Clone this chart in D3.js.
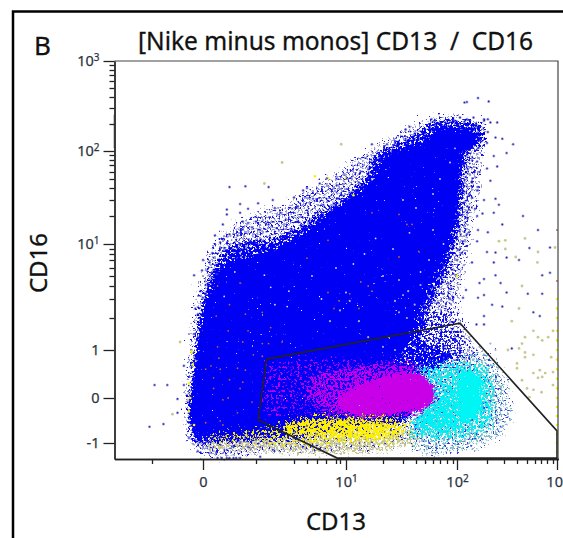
<!DOCTYPE html>
<html>
<head>
<meta charset="utf-8">
<script src="https://cdn.jsdelivr.net/npm/d3@7"></script>
<style>
  html, body { margin: 0; padding: 0; background: #fff; overflow: hidden; }
  svg { display: block; }
  text { font-family: "Noto Sans", sans-serif; }
</style>
</head>
<body>
<svg id="chart" width="563" height="538"></svg>
<script>
// axis ticks
const xMajor = [0, 10, 100, 1000];
const xMajorLabels = [["0", ""], ["10", "1"], ["10", "2"], ["10", "3"]];
const xMinor = [-2, 2, 4, 5, 6, 7, 8, 9, 20, 30, 40, 50, 60, 70, 80, 90, 200, 300, 400, 500, 600, 700, 800, 900];
const yMajor = [-1, 0, 1, 10, 100, 1000];
const yMajorLabels = [["-1", ""], ["0", ""], ["1", ""], ["10", "1"], ["10", "2"], ["10", "3"]];
const yMinor = [2, 3, 4, 5, 6, 7, 8, 9, 20, 30, 40, 50, 60, 70, 80, 90, 200, 300, 400, 500, 600, 700, 800, 900];

// gate, [CD13, CD16]
const gate = [[2.5, 0.81], [110, 1.84], [1000, -0.73], [1000, -1.33], [8.3, -1.33], [2.1, -0.49], [2.5, 0.81]];

const blueOuter = [[-0.3, -1.15], [-0.6, -0.7], [-0.65, -0.04], [-0.55, 0.58], [-0.45, 1.1], [-0.3, 1.9], [-0.2, 3], [-0.05, 4.5], [0.15, 6.6], [0.4, 9.8], [0.75, 13.5], [1.4, 17], [2, 20.5], [2.6, 23.5], [3.5, 26], [4.5, 33], [6.3, 43], [9.7, 62], [15, 90], [21, 128], [32, 175], [50, 215], [78, 250], [115, 230], [170, 210], [190, 210], [180, 100], [170, 57], [160, 30], [140, 14.2], [125, 7], [110, 4.6], [95, 2.4], [140, 1.25], [175, 0.95], [140, 0.7], [45, -0.76], [28, -0.98], [13.5, -1.11], [4.5, -1.15], [1.8, -1.2], [0.45, -1.29]];
const blueMid = [[-0.3, -1], [-0.5, -0.6], [-0.6, -0.15], [-0.45, 0.27], [-0.35, 0.8], [-0.25, 1.4], [-0.1, 2.4], [0.1, 3.6], [0.3, 5], [0.55, 7], [0.95, 9.5], [1.6, 10.8], [2.4, 11.3], [3.2, 12.8], [4.2, 15.5], [5.6, 19.5], [7, 24], [9, 29], [11, 36], [15, 50], [18, 90], [23, 118], [32, 140], [43, 165], [58, 215], [85, 225], [125, 215], [180, 200], [190, 135], [150, 115], [135, 95], [125, 60], [118, 34], [110, 20], [100, 12], [90, 8.5], [82, 5.8], [68, 4], [58, 2.8], [52, 2], [45, 1.3], [70, 1], [100, 0.9], [60, 0.6], [40, 0.48], [45, 0.06], [35, -0.38], [26, -0.6], [9, -0.85], [2.2, -0.95], [0.8, -0.98]];
const blueLower = [[35, 2], [85, 2.5], [110, 1.4], [130, 0.85], [60, 0.5], [35, 0.6]];
const blueCore = [[-0.2, -0.95], [-0.4, -0.6], [-0.5, -0.15], [-0.35, 0.27], [-0.25, 0.8], [-0.15, 1.4], [0, 2.2], [0.2, 3.3], [0.4, 4.5], [0.7, 6], [1.1, 6.9], [1.6, 7.4], [2.2, 8], [2.9, 9], [3.6, 10.5], [4.7, 13.1], [6.1, 17.2], [7.4, 21.5], [10.2, 30], [13.5, 38], [17, 48], [20, 80], [26, 102], [35, 115], [49, 130], [65, 178], [88, 190], [125, 185], [170, 160], [155, 115], [115, 97], [110, 65], [103, 34], [97, 20.5], [87, 12.5], [80, 8.8], [70, 6], [58, 4.2], [48, 2.9], [42, 2.2], [40, 2], [35, 1.25], [26, 0.8], [40, 0.48], [45, 0.06], [35, -0.38], [26, -0.6], [16, -0.6], [9, -0.75], [4.5, -0.82], [2.2, -0.82], [0.8, -0.87], [0.05, -0.87]];
const magentaWide = [[2.6, 0.75], [12, 0.78], [25, 0.72], [40, 0.65], [40, -0.2], [20, -0.45], [8, -0.42], [4.5, -0.35], [2.3, -0.4]];
const magentaMid = [[5.5, 0.45], [10, 0.62], [20, 0.72], [38, 0.72], [68, 0.45], [68, -0.15], [40, -0.35], [15, -0.45], [7, -0.35], [5, 0.05]];
const magentaCore = [[8.5, 0.06], [15, 0.34], [26, 0.52], [44, 0.52], [62, 0.25], [62, -0.05], [48, -0.25], [26, -0.34], [15, -0.38], [8.5, -0.27]];
const yellowOuter = [[-0.2, -0.85], [1, -0.8], [8, -0.8], [20, -0.8], [40, -0.7], [50, -0.9], [35, -1.05], [20, -1.18], [8, -1.22], [3, -1.18], [1, -1.15], [0.1, -1.1]];
const yellowMid = [[0.1, -0.82], [1, -0.8], [3, -0.6], [4.5, -0.42], [10, -0.33], [25, -0.33], [33, -0.5], [38, -0.75], [25, -0.95], [10, -1], [3, -0.98], [0.5, -0.95]];
const yellowCore = [[3.5, -0.58], [5.3, -0.49], [8.5, -0.45], [18, -0.49], [25, -0.53], [30, -0.76], [19, -0.89], [8.5, -0.89], [5.3, -0.84], [3.5, -0.8]];
const cyanOuter = [[33, 0.83], [85, 1], [220, 0.9], [305, 0.4], [350, -0.38], [280, -0.82], [140, -1.15], [50, -1.27], [33, -0.93], [45, -0.38], [60, 0.27]];
const cyanMid = [[37, 0.58], [85, 0.75], [195, 0.7], [240, 0.27], [240, -0.49], [175, -0.82], [70, -0.93], [35, -0.82], [40, -0.49], [60, 0.06]];
const cyanLow = [[103, 0.1], [103, -0.3], [120, -0.65], [70, -0.76], [45, -0.67], [37, -0.53], [55, -0.27], [70, -0.04], [85, 0.27]];
const cyanCore = [[105, 0.54], [140, 0.58], [185, 0.42], [185, -0.09], [165, -0.45], [120, -0.55], [103, -0.3], [100, 0.15]];

// single events
const blueEvents = [[1, 41], [1.6, 42], [2.6, 41], [1.4, 27.5], [1.7, 24.5], [2.1, 28], [2.8, 30], [0.9, 24], [0.9, 21], [1.4, 22], [0.75, 17], [1.5, 18], [1.7, 17.5], [2, 18], [0.45, 13], [1, 13.5], [1.3, 13], [1.5, 15.2], [1.85, 16], [2.2, 15], [2.6, 17], [2.9, 25], [3.2, 22], [4, 32], [4.3, 26], [4.7, 38], [5, 40], [6.3, 45], [7.1, 51], [8.2, 43], [10.2, 51], [11.9, 38], [5.6, 31], [6.7, 27], [7.4, 25], [8.2, 31], [9.3, 34],
  [0.65, 10.5], [0.8, 9.2], [0.35, 8.2], [0.25, 6.7], [0, 7], [-0.04, 5.7], [-0.35, 5.1], [0.2, 4.3], [0.1, 4.1], [-0.1, 3.6], [0, 3.1], [-0.3, 2.5], [-0.2, 2.2], [-0.35, 1.5], [-0.2, 1.4],
  [1.4, 9.8], [1.8, 10.2], [2.3, 11], [3.2, 12.4], [3.9, 14.8], [5.2, 18], [6.1, 22], [8, 26], [8.8, 31], [11, 36], [13.5, 46], [16, 64], [18, 70], [19, 90], [23, 105], [27, 125], [32, 145], [39, 165], [50, 165], [63, 200], [78, 210], [95, 220], [125, 215], [155, 240], [190, 220], [220, 210], [175, 190], [250, 150], [205, 170],
  [125, 350], [133, 355], [170, 390], [210, 360], [58, 230], [63, 220], [90, 230], [110, 240], [133, 230], [190, 230], [205, 230], [260, 210], [35, 190], [32, 180], [17, 125], [22, 125], [26, 130], [37, 125], [290, 145], [370, 125], [320, 95], [240, 88], [260, 68], [200, 65], [220, 48], [250, 31], [270, 27], [190, 30], [167, 38], [150, 32], [140, 24], [240, 22], [185, 21.5], [167, 20], [460, 20], [290, 17], [205, 14.2], [140, 14.2], [167, 11], [650, 15], [850, 9.3], [530, 9.2], [250, 8.3], [200, 8.4], [150, 6.7], [240, 6.7], [320, 7.4], [720, 5.1], [850, 5.4], [250, 5.1], [190, 4.7], [175, 4.3], [280, 4.3], [320, 3.5], [510, 3.4], [720, 3.4], [130, 3.7], [190, 3.3], [170, 3.1], [230, 2.7], [290, 2.6], [120, 3.1],
  [133, 95], [140, 110], [170, 110], [180, 135], [200, 130], [125, 75], [135, 65], [167, 77], [175, 60], [125, 49], [150, 46], [120, 38], [140, 35], [170, 41], [120, 28], [135, 26], [115, 20.5], [135, 19], [160, 24.5], [110, 15.2], [133, 13.5], [170, 15], [100, 11.9], [120, 11], [90, 9.5], [103, 8.8], [85, 7.5], [100, 7], [115, 8.2], [75, 6.4], [88, 5.8], [65, 6.1], [72, 4.9], [82, 4.3], [55, 4.9], [63, 3.9], [74, 3.4], [85, 3], [67, 2.8], [55, 3], [47, 4.3],
  [165, 1.8], [190, 2.1], [190, 1.8], [580, 2.3], [680, 2.1], [360, 1.05],
  [-1.9, 0.27], [-1.4, 0.27], [-1, -0.02], [-0.75, 0.27], [-0.75, 0.67], [-1.55, -0.58], [-2.1, -0.64], [-1, -0.33], [-0.55, -0.89], [-0.2, -1.18], [-0.3, -0.2],
  [0.5, -1.22], [0.9, -1.15], [1.15, -1.09], [1.4, -1], [0.65, -1.04], [0.4, -1.09], [1, -0.93], [1.7, -1.09], [2, -0.93], [2.2, -1.09], [2.5, -1], [2.8, -1.15], [0.7, -1.33], [0.9, -1.33], [1.15, -1.33], [1.4, -1.33], [2.2, -1.3], [0.55, -1.33], [1, -1.33], [1.25, -1.33],
  [4, -0.75], [5, -0.62], [6, -0.8], [7.5, -0.6], [9, -0.75], [11, -0.55], [13, -0.72], [16, -0.55], [20, -0.62], [24, -0.72], [420, 7]];
const greyEvents = [[26, 2.9], [28, 2.3], [33, 2], [23, 1.4], [35, 1.55], [45, 1.4], [39, 1.1], [50, 1], [63, 1.3], [55, 1.8], [70, 1.6], [78, 1.1], [85, 1.9], [95, 1.4], [78, 2.4], [67, 2.9], [50, 2.4], [39, 2.7], [34, 3.6], [28, 4.6], [45, 4.1], [55, 3.2], [85, 3], [26, 1], [20, 1.1], [16, 1.4], [13.5, 1.9], [11, 2.9], [9, 2.4], [7.4, 1.9], [70, 0.9], [85, 1], [110, 1.1], [140, 1], [125, 0.8], [95, 0.8], [78, 0.7], [155, 0.8], [175, 1.1], [190, 0.9], [220, 1.2], [250, 1], [140, 1.4]];
const oliveEvents = [[360, 1.9], [580, 1.6], [650, 1.4], [720, 1.3], [820, 1.4], [900, 1.6], [480, 1.4], [450, 1.2], [420, 1.05], [330, 1], [480, 0.95], [580, 0.9], [480, 0.85], [870, 0.85], [400, 0.72], [680, 0.58], [580, 0.52], [720, 0.44], [650, 0.42], [770, 0.52], [900, 0.54], [400, 0.62], [580, 0.17], [500, 0.2], [450, 0.37], [900, 0.27], [710, 0.12], [530, 0.02],
  [270, 11], [310, 11.3], [480, 12], [310, 9], [390, 7.5], [650, 8.4], [640, 6.7], [950, 9.3], [450, 4], [420, 2.5], [2.4, 45], [3.3, 75], [9.2, 125], [4, 32],
  [-0.9, 1.25], [-0.45, 1], [-0.35, 0.83], [-0.2, 0.87], [-0.5, 0.44], [-0.35, 0.27], [-0.55, 0.1], [-0.6, -0.04], [-0.45, -0.11], [-0.55, -0.27], [-0.35, -0.38], [-1.2, -0.36], [-0.4, -0.53], [-0.2, -0.64], [0, -0.87], [0.2, -0.78], [0.4, -0.93], [-0.1, -0.89]];
const yellowEvents = [[5.8, 54], [7.2, 51], [10, 51], [12, 34], [100, 5], [-0.45, 0.95], [-0.4, 0.7], [-0.55, 0.3], [-0.5, 0], [-0.55, -0.3], [-0.35, -0.6],
  [1000, 3], [1000, 2.5], [1000, 2], [1000, 1.6], [1000, 1.3], [1000, 1], [1000, 0.8], [1000, 0.6], [1000, 0.4], [1000, 0.2], [1000, 0], [1000, -0.2], [1000, -0.4], [1000, -0.6], [1000, -0.8], [1000, -1], [1000, -1.2]];
const orangeEvents = [[0.55, 1.1], [1.5, 1.25], [2.3, 1.2], [2.6, 1.2], [3.3, 1.25], [0.6, 0.83], [1.9, 0.9], [2.3, 0.87], [0.3, 0.67], [0.65, 0.6], [1.3, 0.62], [1.6, 0.58], [0.1, 0.6], [0.4, 0.42], [1, 0.38], [1.5, 0.33], [0.4, 0.2], [1.4, 0.2], [0.75, -0.04], [0.95, 0], [1.85, -0.09], [1.3, -0.33], [0.1, -0.55], [0.65, -0.51], [0.75, -0.6],
  [0.55, 4], [1.4, 4.3], [1, 2.7], [0.5, 2.1], [1.6, 2.2], [2.3, 2.3], [0.95, 1.6], [1.7, 1.6], [2.7, 1.7], [7.8, 2.5], [13.5, 2.5], [14, 4.4], [8.8, 2.9], [17, 22], [28, 21], [33, 17], [37, 17], [28, 7.5], [43, 8.5], [17, 3.6], [3.6, 11.5], [7.2, 11.3], [5, 7.3], [7.2, 3.5], [11, 3.4], [16, 4], [1000, 15], [1000, 4.5]];
const whiteEvents = [[2.4, 5.1], [2.9, 2.7], [3.7, 3.6], [3.6, 2.6], [2.7, 3.9], [1.2, 5.5], [0.8, 3.2], [5.5, 5], [6.5, 3], [8, 6], [10, 3.5], [12, 6.5], [15, 8], [18, 12], [20, 5], [25, 9], [30, 3.3], [35, 14], [40, 25], [45, 5.5], [55, 7], [60, 35], [70, 50], [85, 75], [95, 110], [30, 30], [90, 14], [60, 15], [75, 10]];
</script>
<script>
const svg = d3.select("#chart");

// scales are pinned to the tick marks of the original biexponential axes
const x = d3.scaleLinear()
  .domain([-3.5, -2, 0, 2, 3, 4, 5, 6, 7, 8, 9, 10, 20, 30, 40, 50, 60, 70, 80, 90, 100, 200, 300, 400, 500, 600, 700, 800, 900, 1000, 1020])
  .range([114.5, 152, 203, 256, 277, 294, 307, 317, 326, 336, 340, 346, 383, 403, 416, 425, 433, 440, 447, 453, 457, 487, 504, 517, 527, 535, 541, 547, 553, 557, 558.5]);
const y = d3.scaleLinear()
  .domain([-1.35, -1, 0, 1, 2, 3, 4, 5, 6, 7, 8, 9, 10, 20, 30, 40, 50, 60, 70, 80, 90, 100, 200, 300, 400, 500, 600, 700, 800, 900, 1000])
  .range([459, 443, 398, 350, 318, 299, 286, 276, 268, 260, 254, 249, 244, 216, 200, 188, 179, 172, 165, 160, 155, 151, 124, 108, 97, 88, 81, 75, 70, 65, 61]);

const line = d3.line().x(d => x(d[0])).y(d => y(d[1]));

const defs = svg.append("defs");
defs.append("filter").attr("id", "soft")
  .attr("x", "-5%").attr("y", "-5%").attr("width", "110%").attr("height", "110%")
  .append("feGaussianBlur").attr("stdDeviation", 0.45);

// grain filter: roughens a shape's edge and keeps only part of it, so it reads as separate events
function grain(id, level, seed, shake) {
  const f = defs.append("filter").attr("id", id)
    .attr("filterUnits", "userSpaceOnUse").attr("x", 0).attr("y", 0).attr("width", 563).attr("height", 538)
    .attr("color-interpolation-filters", "sRGB");
  f.append("feTurbulence").attr("type", "fractalNoise").attr("baseFrequency", 0.42)
    .attr("numOctaves", 2).attr("seed", seed).attr("result", "noise");
  f.append("feDisplacementMap").attr("in", "SourceGraphic").attr("in2", "noise").attr("scale", shake)
    .attr("xChannelSelector", "R").attr("yChannelSelector", "G").attr("result", "moved");
  f.append("feColorMatrix").attr("in", "noise").attr("type", "matrix")
    .attr("values", `0 0 0 0 0  0 0 0 0 0  0 0 0 0 0  0 0 14 0 ${-14 * level}`).attr("result", "mask");
  f.append("feComposite").attr("in", "moved").attr("in2", "mask").attr("operator", "in");
}
grain("g20", 0.2, 9, 12);
grain("g40", 0.40, 3, 16);
grain("g46", 0.46, 11, 22);
grain("g52", 0.52, 7, 26);
grain("g57", 0.57, 23, 26);
grain("g62", 0.62, 5, 26);

// panel frame
svg.append("path").attr("d", "M13,538V11.5H563").attr("fill", "none").attr("stroke", "#000").attr("stroke-width", 2.5);

const plot = svg.append("g").attr("filter", "url(#soft)");

const blob = (data, color, g) => plot.append("path")
  .attr("d", line(data) + "Z").attr("fill", color)
  .attr("filter", g ? `url(#${g})` : null);

const dots = (data, color, r) => plot.append("g").selectAll("circle").data(data).join("circle")
  .attr("cx", d => x(d[0])).attr("cy", d => y(d[1])).attr("r", r).attr("fill", color);

dots(blueEvents, "#a8a8cc", 1.5);
dots(oliveEvents, "#c8c890", 1.4);
blob(blueOuter, "#9a9ad2", "g52");
blob(blueOuter, "#1414e8", "g57");
blob(yellowOuter, "#c8c88c", "g46");
blob(cyanOuter, "#84c2c6", "g52");
blob(cyanOuter, "#3a3ae0", "g62");
blob(blueLower, "#1010ea", "g52");
blob(blueMid, "#0000f5", "g40");
blob(blueCore, "#0000f5", "g20");
blob(magentaWide, "#c000e8", "g57");
blob(yellowMid, "#f8f000", "g52");
blob(yellowCore, "#fff000", "g40");
blob(magentaMid, "#c800e8", "g46");
blob(cyanMid, "#00eef2", "g46");
blob(magentaCore, "#c800e8", "g20");
blob(cyanLow, "#00f0f4", "g40");
blob(cyanCore, "#00f5f5", "g20");
dots(greyEvents, "#a8a8d8", 1.1);
dots(yellowEvents, "#fff000", 1.3);
dots(blueEvents, "#1c1ce6", 0.8);
dots(whiteEvents, "#d8d8f4", 0.9);
dots(orangeEvents, "#c0603a", 0.9);

// gate
svg.append("path").attr("d", line(gate)).attr("fill", "none").attr("stroke", "#222").attr("stroke-width", 1.6);

// top and right rules
svg.append("path").attr("d", `M${x.range()[0]},61H558V459`).attr("fill", "none").attr("stroke", "#444").attr("stroke-width", 1.2);
// faint mark on the left axis
svg.append("line").attr("x1", 114).attr("x2", 114).attr("y1", y(260)).attr("y2", y(110)).attr("stroke", "#bbb").attr("stroke-width", 1.5);

// minor ticks first, majors with labels on top
const xAxisMinor = svg.append("g").attr("transform", "translate(0,459)")
  .call(d3.axisBottom(x).tickValues(xMinor).tickSize(5).tickSizeOuter(0).tickFormat(""));
const yAxisMinor = svg.append("g").attr("transform", "translate(114.5,0)")
  .call(d3.axisLeft(y).tickValues(yMinor).tickSize(5).tickSizeOuter(0).tickFormat(""));
const xAxis = svg.append("g").attr("transform", "translate(0,459)")
  .call(d3.axisBottom(x).tickValues(xMajor).tickSize(11).tickSizeOuter(0).tickPadding(7));
const yAxis = svg.append("g").attr("transform", "translate(114.5,0)")
  .call(d3.axisLeft(y).tickValues(yMajor).tickSize(11).tickSizeOuter(0).tickPadding(4));

[xAxisMinor, yAxisMinor, xAxis, yAxis].forEach(g => {
  g.attr("font-family", null).attr("font-size", null);
  g.selectAll("path, line").attr("stroke", "#222").attr("stroke-width", 1.3);
});

function tickText(g, labels, ticks) {
  g.selectAll(".tick text")
    .attr("fill", "#2c3440")
    .attr("stroke", "#2c3440")
    .attr("stroke-width", 0.25)
    .attr("font-size", 14.5)
    .each(function(d) {
      const label = labels[ticks.indexOf(d)];
      const t = d3.select(this).text(label[0]);
      if (label[1]) t.append("tspan").attr("font-size", 10).attr("dy", -5).text(label[1]);
    });
}
tickText(xAxis, xMajorLabels, xMajor);
tickText(yAxis, yMajorLabels, yMajor);

const label = (txt, px, py, size, anchor) => svg.append("text")
  .attr("x", px).attr("y", py).attr("font-size", size).attr("text-anchor", anchor || "start")
  .attr("fill", "#111").attr("stroke", "#111").attr("stroke-width", 0.3).text(txt);

label("B", 34, 55, 26);
label("[Nike minus monos] CD13\u00a0 /\u00a0 CD16", 138, 50, 24.5);
label("CD13", 336, 530, 24, "middle");
label("CD16", 47, 263, 24, "middle").attr("transform", "rotate(-90 47 263)");
</script>
</body>
</html>
